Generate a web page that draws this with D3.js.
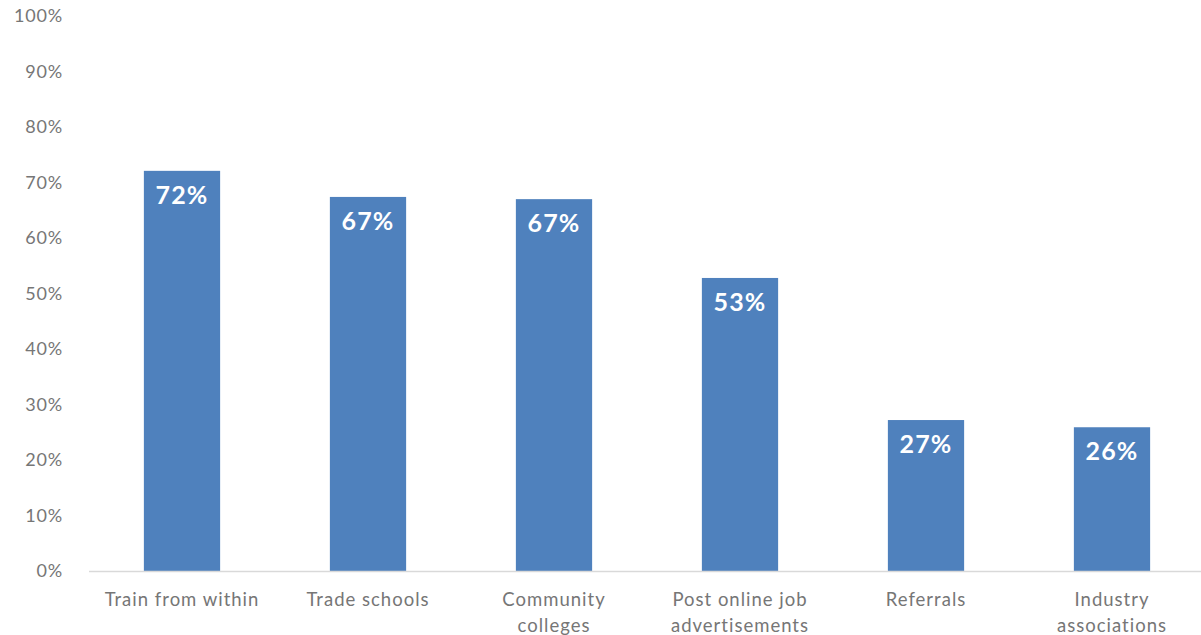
<!DOCTYPE html>
<html>
<head>
<meta charset="utf-8">
<script src="https://cdn.jsdelivr.net/npm/d3@7"></script>
<style>
  body { margin: 0; background: #fff; }
  text { font-family: Lato, "Open Sans", sans-serif; }
</style>
</head>
<body>
<div id="chart"></div>
<script>
const width = 1201;
const height = 635;

// data
const categories = ["Train from within", "Trade schools", "Community colleges",
  "Post online job advertisements", "Referrals", "Industry associations"];
const values = [72.1, 67.4, 67.0, 52.8, 27.2, 25.9];
const valueLabels = ["72%", "67%", "67%", "53%", "27%", "26%"];
const yTicks = [0, 10, 20, 30, 40, 50, 60, 70, 80, 90, 100];

const svg = d3.select("#chart").append("svg")
    .attr("width", width).attr("height", height);

const x = d3.scaleBand().domain(categories).range([89, 1205]).paddingInner(0.59).paddingOuter(0.295);
const y = d3.scaleLinear().domain([0, 100]).range([571, 16]);

// y axis labels (no line, no ticks)
const yAxis = svg.append("g")
    .attr("transform", "translate(63,0)")
    .call(d3.axisLeft(y).tickValues(yTicks).tickSize(0).tickPadding(0).tickFormat(d => d + "%"));
yAxis.select(".domain").remove();
yAxis.selectAll("text")
    .attr("fill", "#767676")
    .style("font-size", "18px")
    .style("letter-spacing", "0.8px");

// bars
svg.selectAll(".bar").data(categories).enter()
    .append("rect")
    .attr("class", "bar")
    .attr("x", d => x(d))
    .attr("y", (d, i) => y(values[i]))
    .attr("width", x.bandwidth())
    .attr("height", (d, i) => y(0) - y(values[i]))
    .attr("fill", "#4f81bd");

// value labels inside bars
svg.selectAll(".val").data(categories).enter()
    .append("text")
    .attr("class", "val")
    .attr("x", d => x(d) + x.bandwidth() / 2)
    .attr("y", (d, i) => y(values[i]) + 33)
    .attr("text-anchor", "middle")
    .attr("fill", "#fff")
    .style("font-size", "25px")
    .style("font-weight", "bold")
    .style("letter-spacing", "1.2px")
    .text((d, i) => valueLabels[i]);

// x axis
const xAxis = svg.append("g")
    .attr("transform", "translate(0," + y(0) + ")")
    .call(d3.axisBottom(x).tickSize(0).tickPadding(0));
xAxis.select(".domain")
    .attr("stroke", "#d9d9d9")
    .attr("stroke-width", 1.5)
    .attr("d", "M89,0.5H1201");
xAxis.selectAll("text")
    .attr("fill", "#767676")
    .style("font-size", "18.5px")
    .style("letter-spacing", "1px")
    .attr("dy", null)
    .attr("y", 35)
    .call(wrap, 165);

function wrap(sel, w) {
  sel.each(function() {
    const t = d3.select(this);
    const words = t.text().split(/\s+/);
    t.text(null);
    let line = [];
    let lineNo = 0;
    let tspan = t.append("tspan").attr("x", 0).attr("y", 35);
    words.forEach(word => {
      line.push(word);
      tspan.text(line.join(" "));
      if (tspan.node().getComputedTextLength() > w && line.length > 1) {
        line.pop();
        tspan.text(line.join(" "));
        line = [word];
        lineNo++;
        tspan = t.append("tspan").attr("x", 0).attr("y", 35 + lineNo * 26).text(word);
      }
    });
  });
}
</script>
</body>
</html>
